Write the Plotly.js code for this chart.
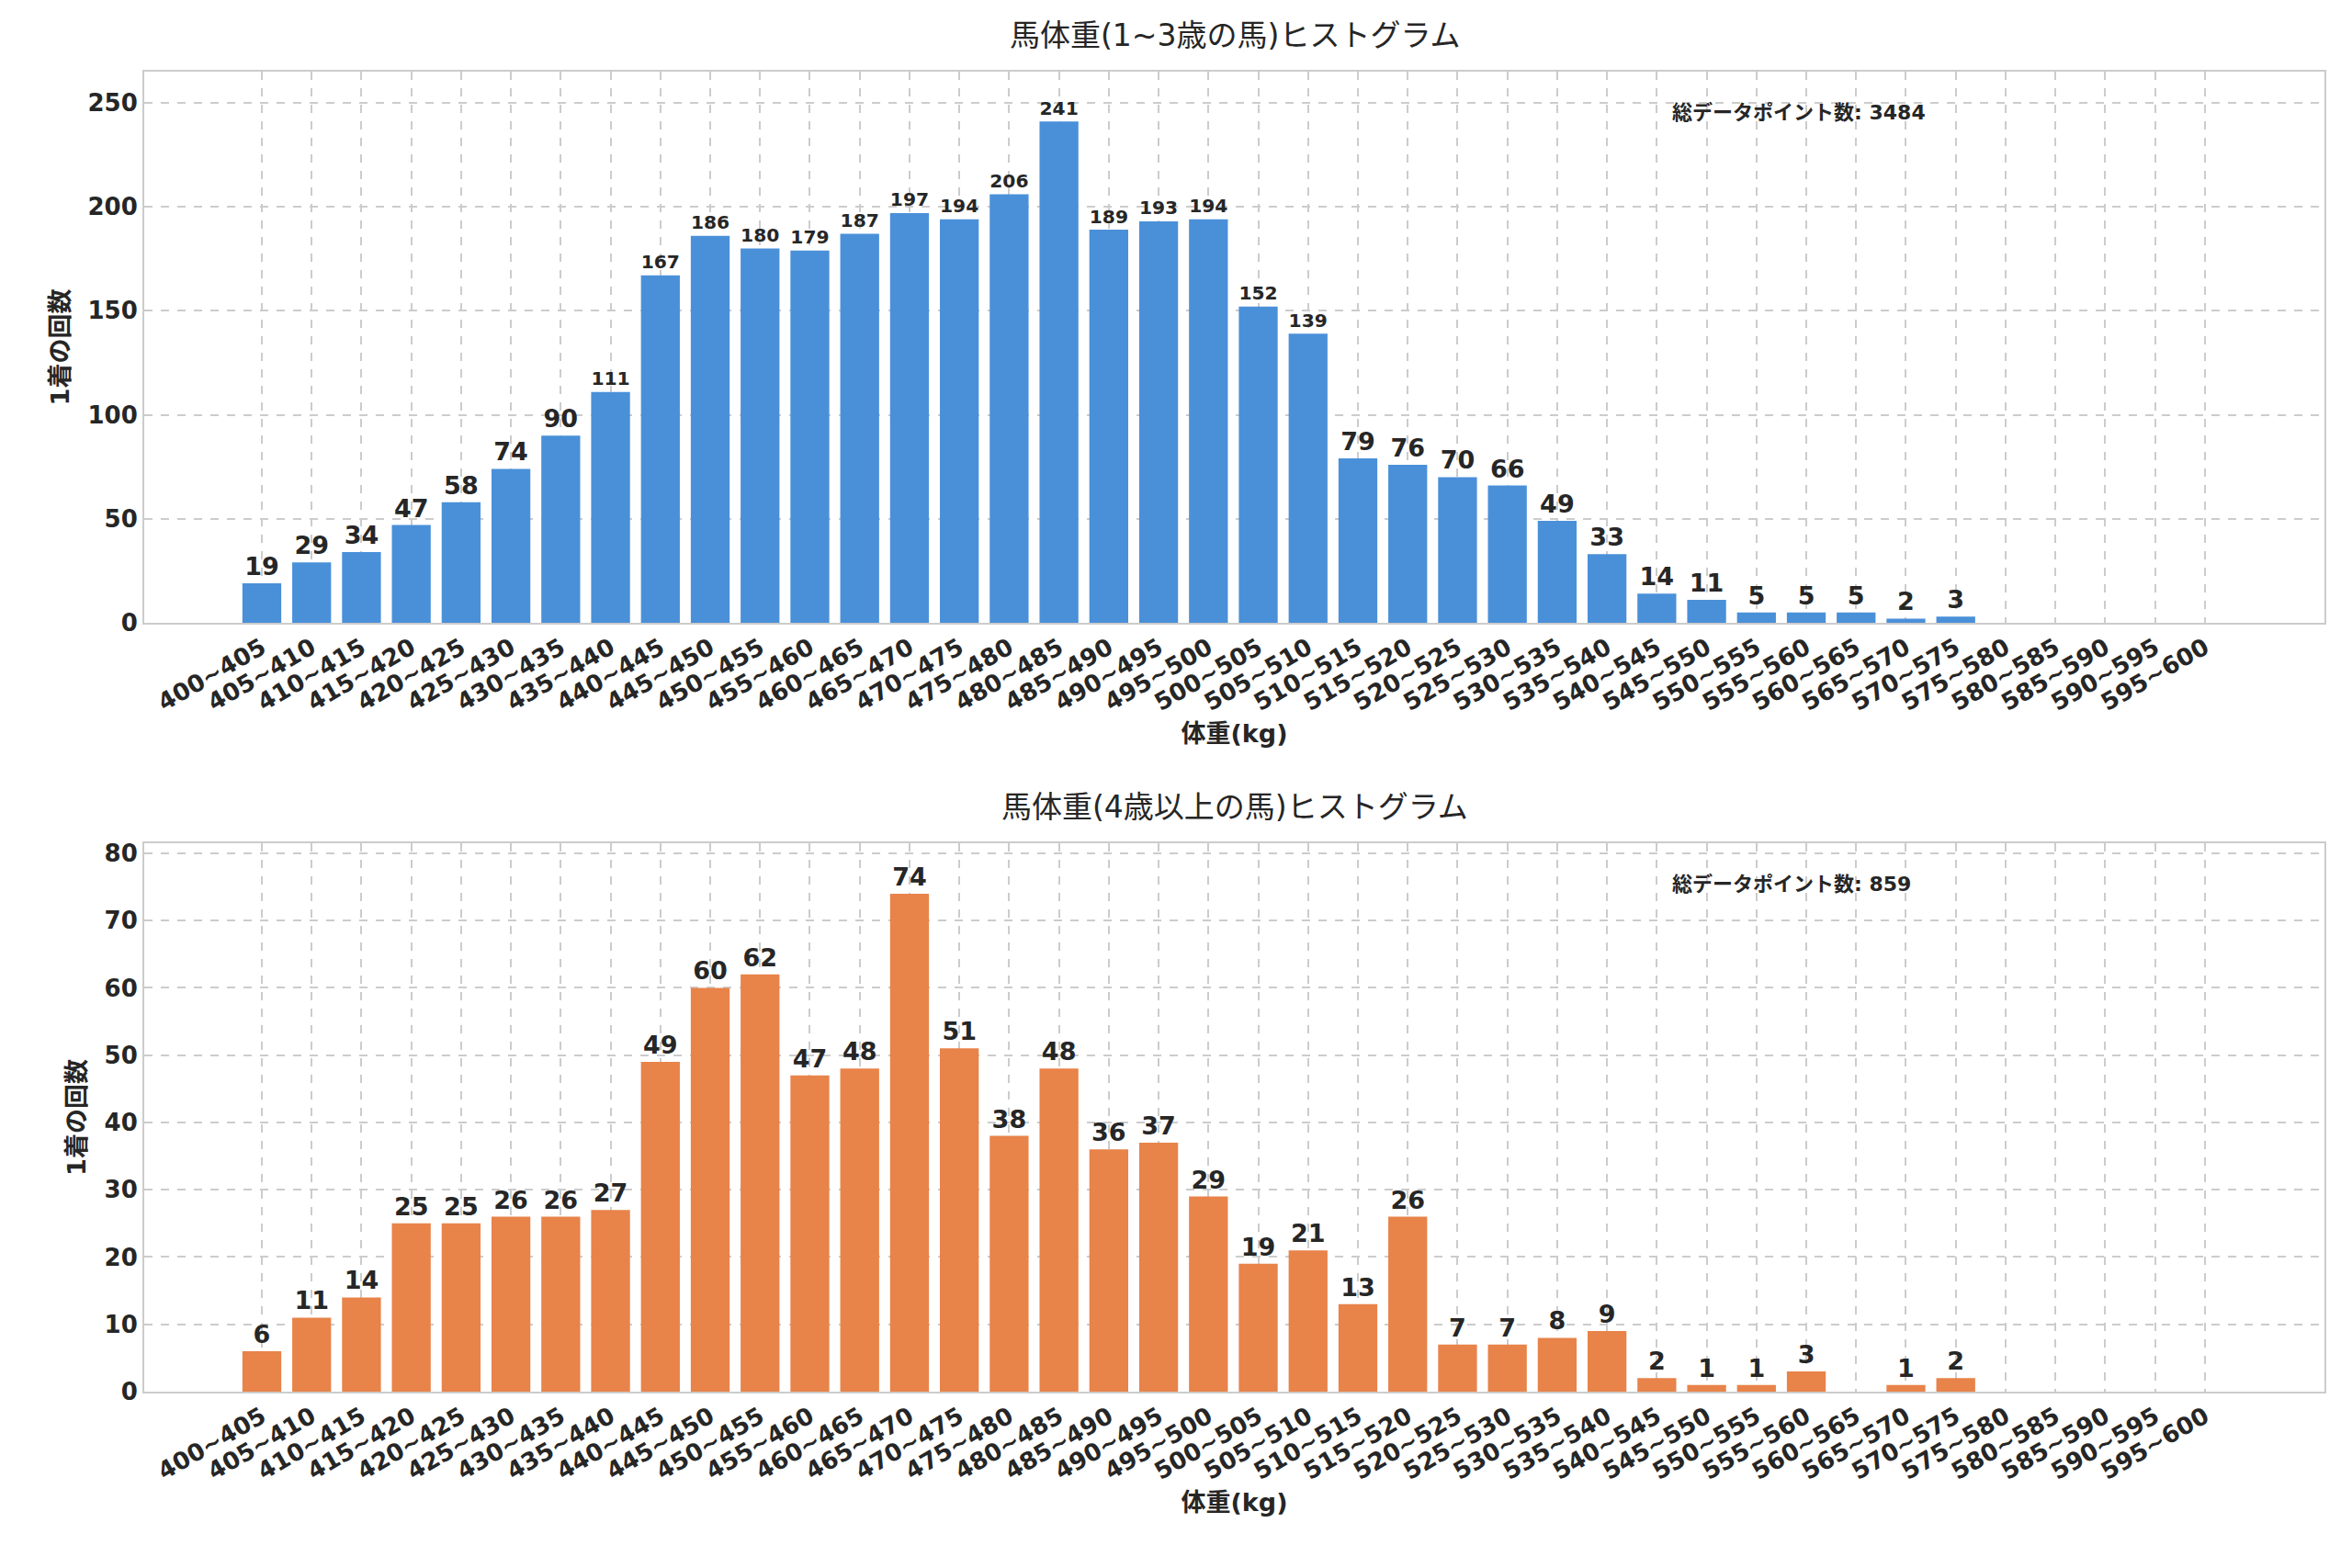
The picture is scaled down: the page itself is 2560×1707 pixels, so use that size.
<!DOCTYPE html><html><head><meta charset="utf-8"><script src="https://cdn.plot.ly/plotly-3.0.1.min.js"></script>
<style>body{margin:0}</style></head><body><div id="c" style="width:2560px;height:1707px"></div><script>
const categories=[];for(let w=400;w<600;w+=5)categories.push(w+'~'+(w+5));
const young=[19,29,34,47,58,74,90,111,167,186,180,179,187,197,194,206,241,189,193,194,152,139,79,76,70,66,49,33,14,11,5,5,5,2,3,0,0,0,0,0];
const old=[6,11,14,25,25,26,26,27,49,60,62,47,48,74,51,38,48,36,37,29,19,21,13,26,7,7,8,9,2,1,1,3,0,1,2,0,0,0,0,0];
const titles=['馬体重(1~3歳の馬)ヒストグラム','馬体重(4歳以上の馬)ヒストグラム'];
const totals=[3484,859];
const F='DejaVu Sans, Noto Sans CJK JP';
function tr(v,c,xa,ya){return {type:'bar',x:categories,y:v,marker:{color:c},width:0.78,text:v.map(d=>d>0?String(d):''),textposition:'outside',cliponaxis:false,textfont:{family:F,size:27,color:'#262626',weight:'bold'},xaxis:xa,yaxis:ya,hoverinfo:'skip'};}
const ax={type:'category',range:[-2.36,41.4],tickangle:-30,tickfont:{family:F,size:26,color:'#262626',weight:'bold'},showgrid:true,griddash:'dash',gridcolor:'#cccccc',gridwidth:2,showline:true,mirror:true,linecolor:'#cccccc',linewidth:2,ticks:'',title:{text:'体重(kg)',font:{family:F,size:27,color:'#262626',weight:'bold'},standoff:10}};
const ay={tickfont:{family:F,size:26,color:'#262626',weight:'bold'},showgrid:true,griddash:'dash',gridcolor:'#cccccc',gridwidth:2,showline:true,mirror:true,linecolor:'#cccccc',linewidth:2,zeroline:false,ticks:'',title:{text:'1着の回数',font:{family:F,size:27,color:'#262626',weight:'bold'},standoff:12}};
const layout={width:2560,height:1707,paper_bgcolor:'white',plot_bgcolor:'white',showlegend:false,bargap:0.2,
margin:{l:157,r:30,t:78,b:192},
xaxis:Object.assign({},ax,{domain:[0,1],anchor:'y'}),
yaxis:Object.assign({},ay,{domain:[0.5825,1],range:[0,265],dtick:50,anchor:'x'}),
xaxis2:Object.assign({},ax,{domain:[0,1],anchor:'y2'}),
yaxis2:Object.assign({},ay,{domain:[0,0.4155],range:[0,81.5],dtick:10,anchor:'x2'}),
annotations:[
{text:titles[0],xref:'paper',yref:'paper',x:0.5,y:1,yshift:18,yanchor:'bottom',showarrow:false,font:{family:F,size:33,color:'#262626'}},
{text:titles[1],xref:'paper',yref:'paper',x:0.5,y:0.4155,yshift:18,yanchor:'bottom',showarrow:false,font:{family:F,size:33,color:'#262626'}},
{text:'総データポイント数: '+totals[0],xref:'x domain',yref:'y domain',x:0.7,y:0.95,xanchor:'left',yanchor:'top',showarrow:false,font:{family:F,size:22,color:'#262626',weight:'bold'}},
{text:'総データポイント数: '+totals[1],xref:'x2 domain',yref:'y2 domain',x:0.7,y:0.95,xanchor:'left',yanchor:'top',showarrow:false,font:{family:F,size:22,color:'#262626',weight:'bold'}}
]};
Plotly.newPlot('c',[tr(young,'#4a90d9','x','y'),tr(old,'#e8834a','x2','y2')],layout,{staticPlot:true});
</script></body></html>
